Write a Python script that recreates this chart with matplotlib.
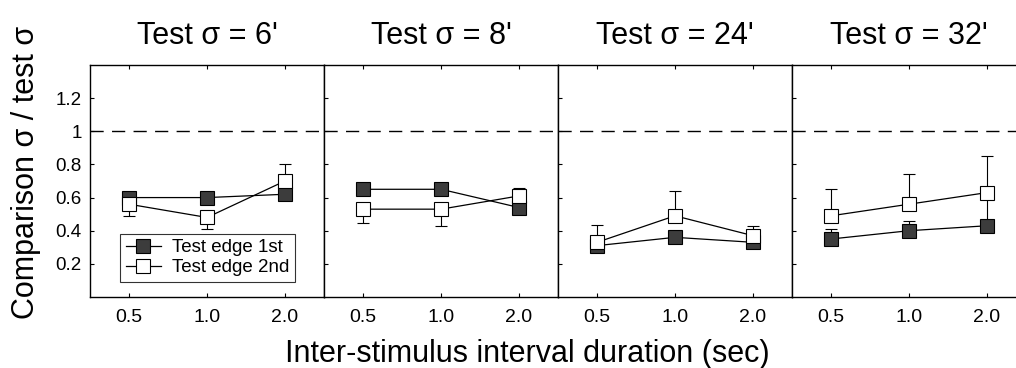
import matplotlib
matplotlib.use("Agg")
import matplotlib.pyplot as plt
import numpy as np

plt.rcParams['font.family'] = ['Liberation Sans', 'DejaVu Sans']

titles = ["Test σ = 6'", "Test σ = 8'", "Test σ = 24'", "Test σ = 32'"]
isi_labels = ["0.5", "1.0", "2.0"]

# Test edge 1st (filled)
first_vals = [
    [0.60, 0.60, 0.62],
    [0.65, 0.65, 0.54],
    [0.31, 0.36, 0.33],
    [0.35, 0.40, 0.43],
]
first_err_up = [
    [0.00, 0.00, 0.00],
    [0.00, 0.00, 0.00],
    [0.00, 0.00, 0.00],
    [0.06, 0.06, 0.20],
]
# Test edge 2nd (open)
second_vals = [
    [0.56, 0.48, 0.70],
    [0.53, 0.53, 0.61],
    [0.33, 0.49, 0.37],
    [0.49, 0.56, 0.63],
]
second_err_lo = [
    [0.07, 0.07, 0.00],
    [0.085, 0.10, 0.00],
    [0.00, 0.00, 0.00],
    [0.00, 0.00, 0.00],
]
second_err_up = [
    [0.00, 0.00, 0.10],
    [0.00, 0.00, 0.05],
    [0.105, 0.15, 0.06],
    [0.16, 0.18, 0.22],
]

W, H = 1016, 368
fig = plt.figure(figsize=(W / 100, H / 100), dpi=100)

left_px = 90
panel_w = 234
top_px = 65
bot_px = 297

x = np.arange(1, 4)
axes = []
for i in range(4):
    l = (left_px + i * panel_w) / W
    ax = fig.add_axes([l, 1 - bot_px / H, panel_w / W, (bot_px - top_px) / H])
    axes.append(ax)
    ax.axhline(1.0, color='black', lw=1.0, ls=(0, (9.5, 6)), zorder=1)
    ax.errorbar(x, first_vals[i], yerr=[np.zeros(3), first_err_up[i]],
                fmt='none', ecolor='black', elinewidth=0.8, capsize=4, capthick=0.8, zorder=2)
    ax.errorbar(x, second_vals[i], yerr=[second_err_lo[i], second_err_up[i]],
                fmt='none', ecolor='black', elinewidth=0.8, capsize=4, capthick=0.8, zorder=2)
    ax.plot(x, first_vals[i], '-s', color='black', lw=0.9, ms=10,
            mfc='#3c3c3c', mec='black', mew=0.8, zorder=3, label='Test edge 1st')
    ax.plot(x, second_vals[i], '-s', color='black', lw=0.9, ms=10,
            mfc='white', mec='black', mew=0.8, zorder=4, label='Test edge 2nd')
    ax.set_xlim(0.5, 3.5)
    ax.set_ylim(0, 1.4)
    ax.set_xticks(x)
    ax.set_xticklabels(isi_labels, fontsize=14)
    ax.set_yticks([0.2, 0.4, 0.6, 0.8, 1.0, 1.2])
    ax.tick_params(direction='in', length=3, width=0.8, top=True)
    ax.tick_params(axis='x', pad=9)
    if i == 0:
        ax.set_yticklabels(['0.2', '0.4', '0.6', '0.8', '1', '1.2'], fontsize=13.5)
        ax.tick_params(axis='y', pad=6)
    else:
        ax.set_yticklabels([])
    for s in ax.spines.values():
        s.set_linewidth(1.0)
    ax.set_title(titles[i], fontsize=22, pad=15)

leg = axes[0].legend(loc='lower left', bbox_to_anchor=(0.128, 0.065), fontsize=13.5,
                     frameon=True, fancybox=False, edgecolor='black', borderaxespad=0,
                     borderpad=0.3, handlelength=1.9, labelspacing=0.15, handletextpad=0.6)
leg.get_frame().set_linewidth(0.8)

fig.text(26 / W, 1 - 172 / H, 'Comparison σ / test σ', rotation=90,
         ha='center', va='center', fontsize=22)
fig.text(527 / W, 1 - 362 / H, 'Inter-stimulus interval duration (sec)',
         ha='center', va='baseline', fontsize=22)

fig.savefig('out.png', dpi=100)
